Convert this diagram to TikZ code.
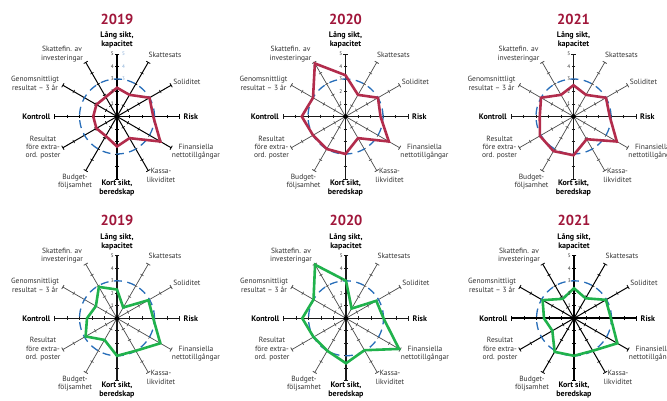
\documentclass[tikz,border=0pt]{standalone}
\usepackage{fontspec}
\setmainfont{PT Sans}
\definecolor{polyred}{RGB}{178,44,76}
\definecolor{polygreen}{RGB}{32,178,76}
\definecolor{ringblue}{RGB}{40,110,185}
\definecolor{titlered}{RGB}{160,22,58}
\definecolor{lblgray}{RGB}{50,50,50}
\tikzset{
 bold-main/.style={draw=black,line width=1.8pt},
 bold-diag/.style={draw=black,line width=1pt},
 thin-main/.style={draw=black!90,line width=1.1pt},
 thin-diag/.style={draw=black!70,line width=0.7pt},
 ring/.style={draw=ringblue,line width=1.3pt,dash pattern=on 8pt off 5.5pt},
 poly/.style={line width=2.6pt,line join=miter,miter limit=6},
 lbl/.style={text=lblgray,font=\fontsize{7.5}{8.3}\selectfont,align=center,inner sep=0pt},
 blbl/.style={text=black,font=\bfseries\fontsize{8}{8.7}\selectfont,align=center,inner sep=0pt},
 ttl/.style={text=titlered,font=\bfseries\fontsize{14.5}{15}\selectfont,inner sep=0pt},
 tnum/.style={text=black!80,font=\fontsize{5.2}{5.5}\selectfont,inner sep=0pt},
}
\newcommand\myradar[7]{%
\begin{scope}[shift={(#1,#2)},axm/.style={#7-main},axd/.style={#7-diag}]
 \foreach \a in {0,30,...,330}{%
   \pgfmathtruncatemacro\mm{mod(\a,90)}%
   \ifnum\mm=0 \tikzset{axcur/.style={axm}}\else\tikzset{axcur/.style={axd}}\fi
   \begin{scope}[rotate=\a]
     \draw[axcur] (0,0) -- (62.5,0);
     \foreach \k in {12.5,25,37.5,50}{\draw[axcur,line width=0.6pt] (\k,-1.8) -- (\k,1.8);}
     \draw[axcur,line width=0.8pt] (62.5,-2.3) -- (62.5,2.3);
   \end{scope}
 }
 \draw[ring] (0,0) circle (37.5);
 \foreach \v [count=\i] in {#5}{\coordinate (#4-p\i) at ({90-30*(\i-1)}:{\v*12.5});}
 \draw[poly,draw=#6] (#4-p1) \foreach \i in {2,...,12}{-- (#4-p\i)} -- cycle;
 \fill (0,0) circle (2.3);
 \foreach \k in {1,...,5}{\node[tnum] (#4-n\k) at (-4.6,\k*12.5) {\k};}
 \node[ttl] (#4-title) at (0,97.5) {#3};
 \node[blbl] (#4-lang) at (0,76.5) {Lång sikt,\\kapacitet};
 \node[lbl] (#4-skat) at (48,62) {Skattesats};
 \node[lbl] (#4-soli) at (70,35) {Soliditet};
 \node[blbl,anchor=west] (#4-risk) at (66.5,0) {Risk};
 \node[lbl] (#4-fin) at (79,-35) {Finansiella\\nettotillgångar};
 \node[lbl] (#4-kassa) at (44,-59) {Kassa-\\likviditet};
 \node[blbl] (#4-kort) at (0,-71.5) {Kort sikt,\\beredskap};
 \node[lbl] (#4-budget) at (-42,-65) {Budget-\\följsamhet};
 \node[lbl] (#4-res) at (-74,-31) {Resultat\\före extra-\\ord. poster};
 \node[blbl,anchor=east] (#4-kontroll) at (-66.5,0) {Kontroll};
 \node[lbl] (#4-genom) at (-82,33) {Genomsnittligt\\resultat – 3 år};
 \node[lbl] (#4-skfin) at (-55,62.5) {Skattefin. av\\investeringar};
\end{scope}}
\begin{document}
\begin{tikzpicture}[x=1pt,y=1pt]
\fill[white] (0,0) rectangle (667,401);
\useasboundingbox (0,0) rectangle (667,401);
\myradar{117}{284.5}{2019}{ta}{2.3,2.0,3.0,2.9,4.0,2.0,2.4,1.8,1.9,1.9,1.9,1.8}{polyred}{bold}
\myradar{345.5}{284.5}{2020}{tb}{3.3,2.0,3.0,2.8,4.0,2.0,3.0,3.0,3.0,3.5,3.0,4.9}{polyred}{thin}
\myradar{573.5}{284.5}{2021}{tc}{2.5,2.0,3.0,2.9,4.0,2.1,3.1,3.2,3.1,2.7,3.0,2.0}{polyred}{thin}
\myradar{117}{82.7}{2019}{ba}{2.3,1.0,2.9,2.9,4.0,3.0,3.0,2.0,2.9,2.4,1.95,2.9}{polygreen}{thin}
\myradar{346}{82.7}{2020}{bb}{3.0,0.9,2.8,3.0,4.9,2.95,3.6,3.0,3.0,3.5,3.0,4.95}{polygreen}{thin}
\myradar{574}{82.7}{2021}{bc}{2.4,1.85,2.95,2.95,4.0,3.0,3.0,3.1,2.0,2.4,2.9,1.8}{polygreen}{bold}
\foreach \k in {3,4,5}{\node[tnum,text=ringblue!55] (ta-b\k) at (123.5,284.5+\k*12.5) {\k};}
\end{tikzpicture}
\end{document}
